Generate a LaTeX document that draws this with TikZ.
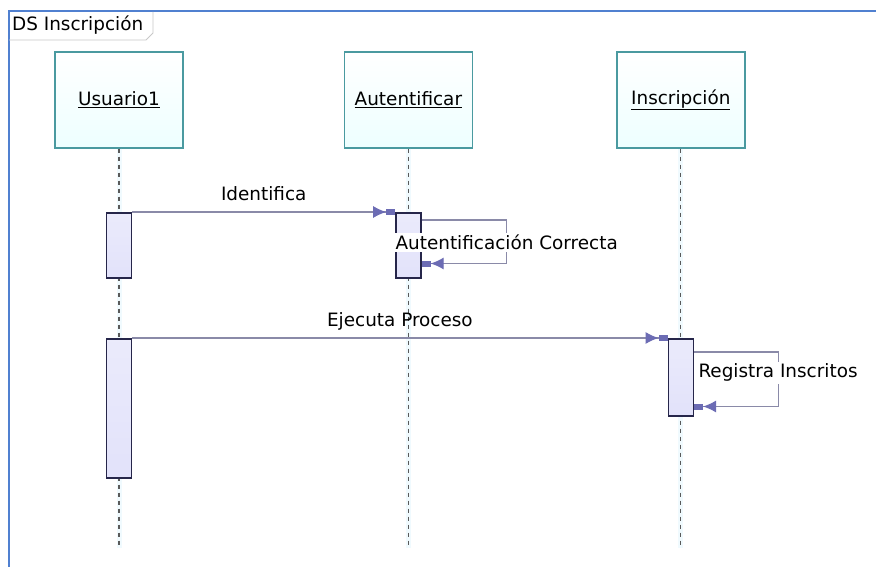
\documentclass[tikz,border=0pt]{standalone}
\usepackage{fontspec}
\setmainfont{DejaVu Sans}
\usetikzlibrary{arrows.meta,positioning}
\definecolor{framecol}{HTML}{5080D0}
\definecolor{tabcol}{HTML}{C8C8C8}
\definecolor{headcol}{HTML}{4A9AA0}
\definecolor{msgcol}{HTML}{8A8AA8}
\definecolor{tipcol}{HTML}{6C6CB4}
\definecolor{actfill}{HTML}{E2E2FA}
\definecolor{actline}{HTML}{26264A}
\definecolor{lifecol}{HTML}{5A5A5A}

\begin{document}
\begin{tikzpicture}[x=1pt,y=-1pt,
font=\fontsize{18.4}{22}\selectfont,
head/.style={
% The shape:
rectangle,
% The size:
minimum width=128pt, minimum height=96pt,
% The border:
line width=1.4pt, draw=headcol,
% The filling:
top color=white, % white at the top...
bottom color=cyan!7 % and a light cyan at the bottom
},
act/.style={
% The shape:
rectangle, inner sep=0pt,
% The size:
minimum width=25pt,
% The border:
line width=1.5pt, draw=actline,
% The filling:
top color=actfill!70, bottom color=actfill
},
lifeline/.style={
% dashed, with a faint cyan glow
line width=1.1pt, draw=lifecol, dash pattern=on 4pt off 4pt
},
msg/.style={
line width=1.1pt, draw=msgcol,
-{Latex[length=13pt,width=12pt,color=tipcol]Rectangle[length=9pt,width=6pt,color=tipcol]}
},
lbl/.style={fill=white, inner sep=2pt}
]
\useasboundingbox (0,0) rectangle (876,567);
\fill[white] (0,0) rectangle (876,567);

% frame with its name tab
\draw[framecol, line width=2pt] (9,567) -- (9,11) -- (876,11);
\node (tab) [anchor=west, inner sep=0pt] at (12,25) {DS Inscripción};
\draw[tabcol, line width=0.8pt] (9,40) -- (146,40) -- (153,33) -- (153,12);

% objects
\node (usr) [head] at (119,100) {\underline{Usuario1}};
\node (aut) [head, right=160pt of usr] {\underline{Autentificar}};
\node (ins) [head, right=143pt of aut] {\underline{Inscripción}};

% lifelines
\coordinate (usrend) at (usr |- 0,548);
\coordinate (autend) at (aut |- 0,548);
\coordinate (insend) at (ins |- 0,548);
\draw[cyan!6, line width=5pt] (usr.south) -- (usrend);
\draw[cyan!6, line width=5pt] (aut.south) -- (autend);
\draw[cyan!6, line width=5pt] (ins.south) -- (insend);
\draw[lifeline] (usr.south) -- (usrend);
\draw[lifeline] (aut.south) -- (autend);
\draw[lifeline] (ins.south) -- (insend);

% activations
\node (usract1) [act, minimum height=65pt, anchor=north] at (usr |- 0,212) {};
\node (usract2) [act, minimum height=139pt, anchor=north] at (usr |- 0,338) {};
\node (autact) [act, minimum height=65pt, anchor=north] at (aut |- 0,212) {};
\node (insact) [act, minimum height=77pt, anchor=north] at (ins |- 0,338) {};

% messages
\path (usract1.north east) edge[msg] node[above=7pt] {Identifica} (autact.north west);
\draw[msg] ([yshift=-8pt]autact.north east) -- ++(85,0)
  |- node[lbl, pos=0.26] {Autentificación Correcta} ([yshift=15pt]autact.south east);
\path (usract2.north east) edge[msg] node[above=4pt] {Ejecuta Proceso} (insact.north west);
\draw[msg] ([yshift=-14pt]insact.north east) -- ++(84,0)
  |- node[lbl, pos=0.19] {Registra Inscritos} ([yshift=10pt]insact.south east);
\end{tikzpicture}
\end{document}
